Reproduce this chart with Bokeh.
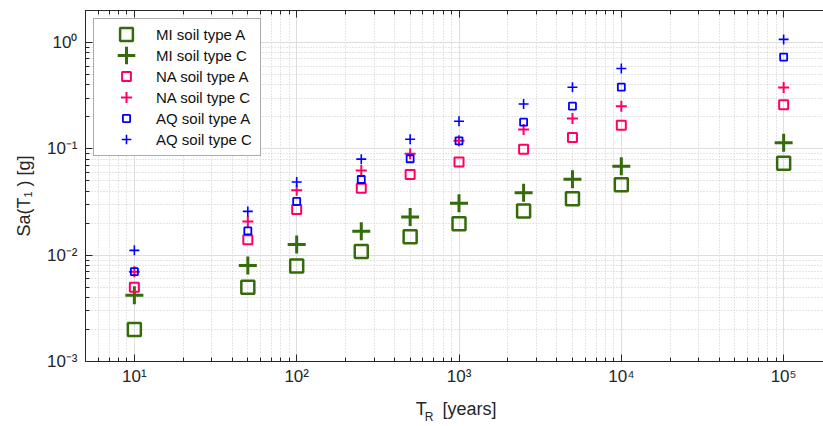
from bokeh.plotting import figure
from bokeh.models import (FixedTicker, LogAxis, LinearAxis, LinearScale,
                          CustomJSTickFormatter, Range1d, Legend, LegendItem)
from bokeh.core.properties import value
from bokeh.embed import file_html
from bokeh.resources import INLINE

# ---- data ----
TR = [10, 50, 100, 250, 500, 1000, 2500, 5000, 10000, 100000]
MI_A = [0.0020, 0.0050, 0.0079, 0.0108, 0.0149, 0.0197, 0.0260, 0.0340, 0.0460, 0.0730]
MI_C = [0.0042, 0.0080, 0.0126, 0.0168, 0.0228, 0.0308, 0.0386, 0.0519, 0.0687, 0.1140]
NA_A = [0.0050, 0.0140, 0.0269, 0.0427, 0.0574, 0.0750, 0.0990, 0.1280, 0.1670, 0.2600]
NA_C = [0.0070, 0.0207, 0.0407, 0.0627, 0.0900, 0.1190, 0.1520, 0.1930, 0.2520, 0.3780]
AQ_A = [0.0070, 0.0169, 0.0320, 0.0515, 0.0807, 0.1190, 0.1780, 0.2520, 0.3800, 0.7300]
AQ_C = [0.0111, 0.0258, 0.0487, 0.0800, 0.1230, 0.1820, 0.2640, 0.3800, 0.5700, 1.0700]
labels = ["MI soil type A", "MI soil type C", "NA soil type A",
          "NA soil type C", "AQ soil type A", "AQ soil type C"]
x_title = ["T", "R", "[years]"]
y_title = "Sa(T\u2081 ) [g]"

X_MAJOR = [10.0**e for e in range(0, 6)]
X_MINOR = [m * 10.0**e for e in range(0, 6) for m in range(2, 10)]
Y_MAJOR = [10.0**e for e in range(-3, 1)]
Y_MINOR = [m * 10.0**e for e in range(-3, 1) for m in range(2, 10)]

GREEN = "#356B0A"
PINK = "#FF0066"
BLUE = "#0000FF"
AX = "#262626"
FONT = "Liberation Sans"

FRAME_H = 351
p = figure(width=823, height=426, x_axis_type="log", y_axis_type="log",
           x_range=Range1d(5, 1.76e5), y_range=Range1d(1e-3, 2),
           output_backend="svg", toolbar_location=None,
           min_border_left=85, min_border_right=0, min_border_top=10,
           min_border_bottom=65)
p.outline_line_color = None
p.background_fill_color = "white"
p.border_fill_color = "white"

fmt = CustomJSTickFormatter(code=r"""
const e = Math.round(Math.log10(tick));
const sup = {"-": "\u207b", "0": "\u2070", "1": "\u00b9", "2": "\u00b2", "3": "\u00b3",
             "4": "\u2074", "5": "\u2075", "6": "\u2076", "7": "\u2077", "8": "\u2078", "9": "\u2079"};
let s = "";
for (const c of String(e)) { s += sup[c]; }
return "10" + s;
""")
blank = CustomJSTickFormatter(code='return "";')

xt = FixedTicker(ticks=X_MAJOR, minor_ticks=X_MINOR)
yt = FixedTicker(ticks=Y_MAJOR, minor_ticks=Y_MINOR)

top = LogAxis()
p.add_layout(top, "above")

for ax, tk in ((p.xaxis, xt), (p.yaxis, yt)):
    ax.ticker = tk
    ax.formatter = fmt
    ax.axis_line_color = AX
    ax.major_tick_line_color = AX
    ax.minor_tick_line_color = AX
    ax.major_tick_in = 7
    ax.major_tick_out = 0
    ax.minor_tick_in = 4
    ax.minor_tick_out = 0
    ax.major_label_text_font = FONT
    ax.major_label_text_font_size = "17px"
    ax.major_label_text_color = AX

top.formatter = blank
top.major_label_text_font_size = "1px"
top.major_label_standoff = 0
p.xaxis[0].major_label_standoff = 15
p.yaxis[0].major_label_standoff = 8

for g, tk in ((p.xgrid, xt), (p.ygrid, yt)):
    g.ticker = tk
    g.grid_line_color = "#dedede"
    g.grid_line_width = 1
    g.minor_grid_line_color = "#cacaca"
    g.minor_grid_line_dash = "1 2"
    g.minor_grid_line_width = 1

# axis titles built from label-only axes on pixel-like ranges
p.extra_x_ranges = {"lab": Range1d(0, 738)}
p.extra_x_scales = {"lab": LinearScale()}
p.extra_y_ranges = {"lab": Range1d(0, FRAME_H)}
p.extra_y_scales = {"lab": LinearScale()}

def label_axis(cls, kw, ticks, texts, size, standoff):
    code = "const t = %r; const k = %r; return t[k.indexOf(tick)];" % (texts, ticks)
    a = cls(ticker=FixedTicker(ticks=ticks, minor_ticks=[]),
            formatter=CustomJSTickFormatter(code=code), **kw)
    a.axis_line_color = None
    a.major_tick_line_color = None
    a.minor_tick_line_color = None
    a.major_tick_in = 0
    a.major_tick_out = 0
    a.minor_tick_in = 0
    a.minor_tick_out = 0
    a.major_label_text_font = FONT
    a.major_label_text_font_size = size
    a.major_label_text_color = AX
    a.major_label_standoff = standoff
    return a

# subscript R first (further below), then T / [years] pulled back up
p.add_layout(label_axis(LinearAxis, dict(x_range_name="lab"), [343.5],
                        [x_title[1]], "12px", 21), "below")
p.add_layout(label_axis(LinearAxis, dict(x_range_name="lab"), [335.75, 384.0],
                        [x_title[0], x_title[2]], "18px", -28), "below")

ylab = label_axis(LinearAxis, dict(y_range_name="lab"), [165.5], [y_title], "18px", 10)
ylab.major_label_orientation = "vertical"
p.add_layout(ylab, "left")

styles = [
    (MI_A, "square", 13, GREEN, 2.5),
    (MI_C, "cross", 18, GREEN, 3.0),
    (NA_A, "square", 9, PINK, 2.0),
    (NA_C, "cross", 11, PINK, 2.0),
    (AQ_A, "square", 7, BLUE, 1.8),
    (AQ_C, "cross", 10, BLUE, 1.6),
]
rends = []
for (vals, mk, sz, col, lw) in styles:
    rends.append(p.scatter(TR, vals, marker=mk, size=sz, line_color=col,
                           fill_color=None, line_width=lw))

# legend: box + labels (keys drawn separately so each keeps its own size)
dummy = p.scatter(x=[], y=[], marker="square", size=1, line_alpha=0, fill_alpha=0)
PAD, MARGIN, ROW, GW = 5, 8, 21, 56
lg = Legend(items=[LegendItem(label=value(t), renderers=[dummy]) for t in labels],
            location="top_left", margin=MARGIN, padding=PAD, spacing=0,
            glyph_width=GW, glyph_height=ROW, label_height=ROW, label_standoff=1,
            label_width=99, label_text_font=FONT, label_text_font_size="15px",
            label_text_color="#111111", border_line_color="#555555",
            border_line_width=1, background_fill_color="white",
            background_fill_alpha=1.0)
p.add_layout(lg)

key_cx = MARGIN + PAD + GW / 2
for i, (r, st) in enumerate(zip(rends, styles)):
    h = int(round(st[2] / 0.4 / 2)) * 2
    cy = MARGIN + PAD + ROW / 2 + ROW * i          # from frame top
    key = Legend(items=[LegendItem(label=value(""), renderers=[r])],
                 location=(key_cx - h / 2, FRAME_H - cy - h / 2),
                 margin=0, padding=0, spacing=0, glyph_width=h, glyph_height=h,
                 label_height=h, label_standoff=0, label_width=0,
                 label_text_font_size="1px", border_line_color=None,
                 background_fill_alpha=0.0)
    p.add_layout(key)

open("out.html", "w").write(file_html(p, INLINE))
